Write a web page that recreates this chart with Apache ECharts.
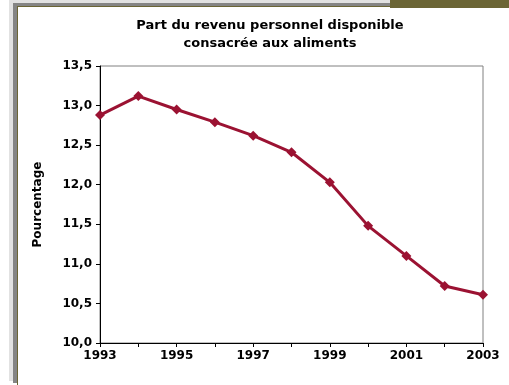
<!DOCTYPE html>
<html>
<head>
<meta charset="utf-8">
<script src="https://cdn.jsdelivr.net/npm/echarts@6/dist/echarts.min.js"></script>
<style>
html, body { margin: 0; padding: 0; background: #fff; }
#chart { width: 509px; height: 385px; }
</style>
</head>
<body>
<div id="chart"></div>
<script>
var years = ["1993", "1994", "1995", "1996", "1997", "1998", "1999", "2000", "2001", "2002", "2003"];
var foodShare = [12.88, 13.12, 12.95, 12.79, 12.62, 12.41, 12.03, 11.48, 11.10, 10.72, 10.61];
var titleLines = ["Part du revenu personnel disponible", "consacrée aux aliments"];
var yName = "Pourcentage";

var chart = echarts.init(document.getElementById("chart"));
var font = "'DejaVu Sans', Verdana, sans-serif";
var lineColor = "#9b1232";

chart.setOption({
    animation: false,
    textStyle: {fontFamily: font},
    title: {
        text: titleLines.join("\n"),
        left: 265, top: 12, textAlign: "center",
        textStyle: {fontSize: 13, fontWeight: "bold", color: "#000", lineHeight: 18, fontFamily: font}
    },
    graphic: [
        // frame on the left and top
        {type: "rect", shape: {x: 9, y: 0, width: 4, height: 381}, style: {fill: "#e2e2e2"}, silent: true},
        {type: "rect", shape: {x: 9, y: 0, width: 500, height: 3}, style: {fill: "#e2e2e2"}, silent: true},
        {type: "rect", shape: {x: 13, y: 3, width: 4, height: 380}, style: {fill: "#858585"}, silent: true},
        {type: "rect", shape: {x: 13, y: 3, width: 496, height: 4}, style: {fill: "#858585"}, silent: true},
        {type: "rect", shape: {x: 17, y: 6, width: 1, height: 379}, style: {fill: "#6b6535"}, silent: true},
        {type: "rect", shape: {x: 17, y: 6, width: 492, height: 1}, style: {fill: "#6b6535"}, silent: true},
        // clipped label box in the corner
        {type: "rect", shape: {x: 390, y: 0, width: 119, height: 8}, style: {fill: "#6b6535"}, silent: true},
        {type: "text", x: 398, y: -17, style: {text: "FIGURE 2", fill: "#fff", font: "bold 20px " + font}, silent: true}
    ],
    grid: {
        left: 100, right: 26, top: 66, bottom: 42,
        show: true, borderColor: "#808080", borderWidth: 1, backgroundColor: "#fff"
    },
    xAxis: {
        type: "category",
        data: years,
        boundaryGap: false,
        axisLine: {lineStyle: {color: "#000", width: 1}},
        axisTick: {show: true, interval: 0, length: 4, lineStyle: {color: "#000"}},
        axisLabel: {interval: 1, color: "#000", fontSize: 12, fontWeight: "bold", margin: 7, fontFamily: font},
        splitLine: {show: false}
    },
    yAxis: {
        type: "value",
        min: 10, max: 13.5, interval: 0.5,
        name: yName,
        nameLocation: "middle",
        nameGap: 56,
        nameTextStyle: {fontSize: 12, fontWeight: "bold", color: "#000", fontFamily: font},
        axisLine: {show: true, lineStyle: {color: "#000", width: 1}},
        axisTick: {show: true, length: 4, lineStyle: {color: "#000"}},
        axisLabel: {
            color: "#000", fontSize: 12, fontWeight: "bold", margin: 8, fontFamily: font,
            formatter: function (v) { return v.toFixed(1).replace(".", ","); }
        },
        splitLine: {show: false}
    },
    series: [{
        type: "line",
        data: foodShare,
        symbol: "diamond",
        symbolSize: 10,
        lineStyle: {color: lineColor, width: 3},
        itemStyle: {color: lineColor},
        clip: false
    }]
});
</script>
</body>
</html>
